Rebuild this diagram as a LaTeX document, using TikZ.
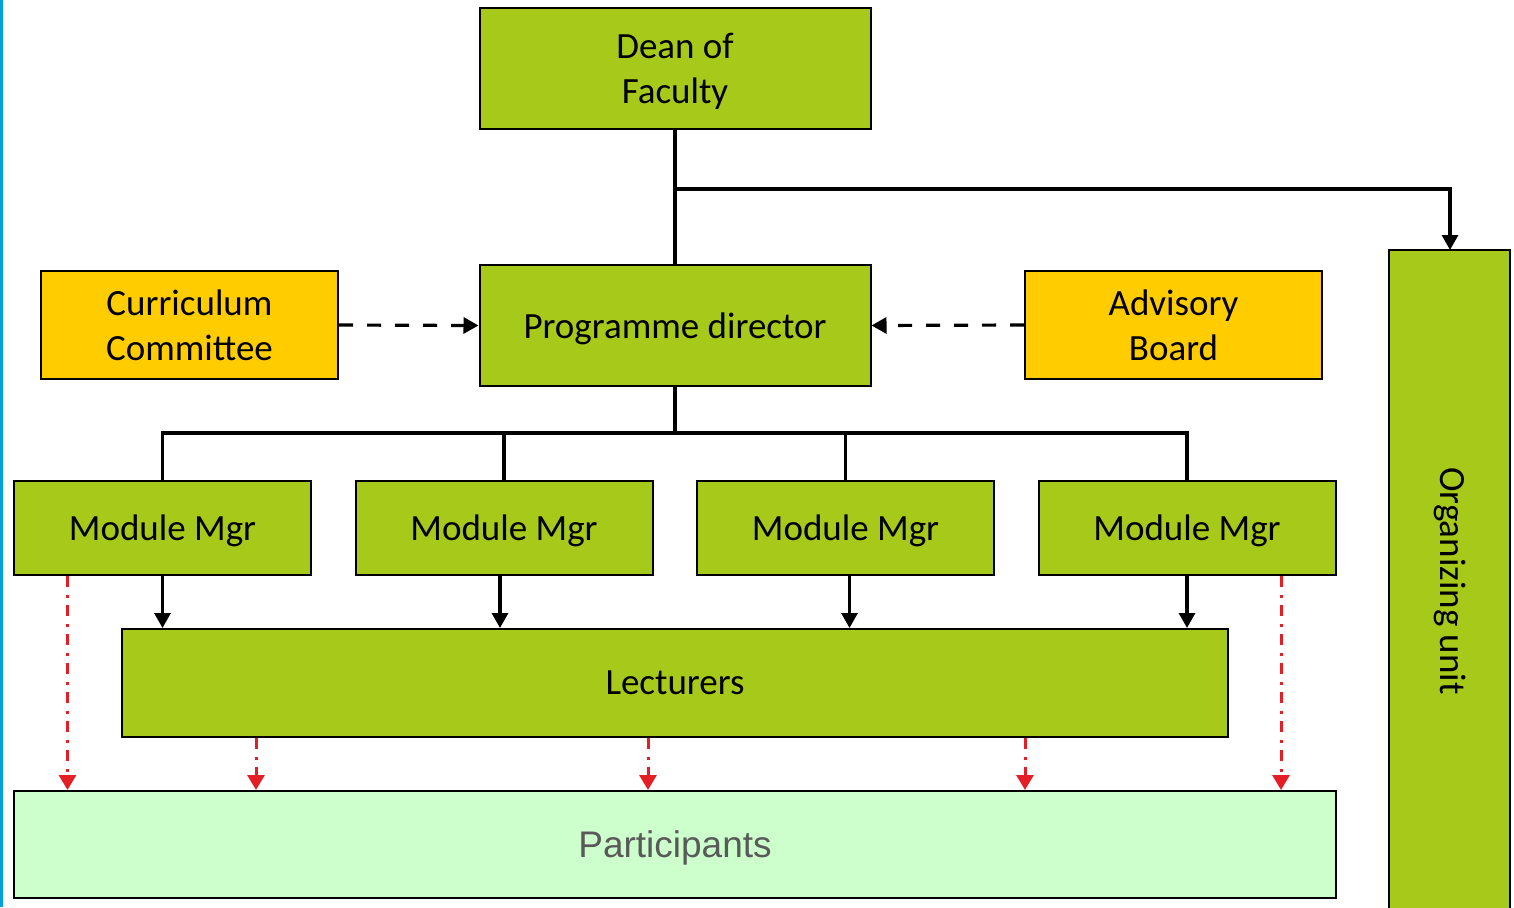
\documentclass[tikz,border=0pt]{standalone}
\usepackage{fontspec}
\setmainfont{Carlito}
\newfontfamily\arialfont{Liberation Sans}
\usetikzlibrary{arrows.meta}
\definecolor{lime}{HTML}{A7C91A}
\definecolor{gold}{HTML}{FFCC00}
\definecolor{mint}{HTML}{CCFFCC}
\definecolor{arrred}{HTML}{E31E24}
\definecolor{edgeblue}{HTML}{00A0DC}
\definecolor{txtgray}{HTML}{595959}
\tikzset{
  box/.style={draw=black, line width=2pt, fill=lime, inner sep=0pt, align=center, text depth=0pt, font=\fontsize{37}{45}\selectfont},
  goldbox/.style={box, fill=gold},
  conn/.style={line width=3.2pt, black},
  arr/.style={conn, -{Triangle[width=16pt,length=15pt]}},
  dasharr/.style={arr, dash pattern=on 14pt off 14pt},
  redarrow/.style={line width=3pt, draw=arrred, dash pattern=on 11pt off 8pt on 3pt off 7pt, -{Triangle[width=17pt,length=15pt]}}
}
\begin{document}
\begin{tikzpicture}[x=1pt,y=-1pt]
\useasboundingbox (0,0) rectangle (1514,907);
\fill[edgeblue] (0,0) rectangle (2.5,907);
% nodes
\node[box, minimum width=391pt, minimum height=121pt] (dean) at (675,68.5) {Dean of\\Faculty};
\node[box, minimum width=391pt, minimum height=121pt] (pd) at (675,325.5) {Programme director};
\node[goldbox, minimum width=297pt, minimum height=108pt] (cc) at (189.5,325) {Curriculum\\Committee};
\node[goldbox, minimum width=297pt, minimum height=108pt] (ab) at (1173.5,325) {Advisory\\Board};
\node[box, minimum width=297pt, minimum height=94pt] (m1) at (162.5,528) {Module Mgr};
\node[box, minimum width=297pt, minimum height=94pt] (m2) at (504,528) {Module Mgr};
\node[box, minimum width=297pt, minimum height=94pt] (m3) at (845.5,528) {Module Mgr};
\node[box, minimum width=297pt, minimum height=94pt] (m4) at (1187,528) {Module Mgr};
\node[box, minimum width=1106pt, minimum height=108pt] (lec) at (675,683) {Lecturers};
\node[box, fill=mint, minimum width=1322pt, minimum height=107pt, font=\arialfont\fontsize{37}{45}\selectfont, text=txtgray] (par) at (675,844.5) {Participants};
% organizing unit (open at the bottom)
\fill[lime] (1389,250) rectangle (1510,912);
\draw[line width=2pt] (1389,912) -- (1389,250) -- (1510,250) -- (1510,912);
\node[rotate=-90, font=\fontsize{37}{45}\selectfont] (ou) at (1450,581) {Organizing unit};
\coordinate (outop) at (1450,250);
\coordinate (br1) at (675,189);
\coordinate (br2) at (675,433);
% connectors
\draw[conn] (dean.south) -- (pd.north);
\draw[arr] (br1) -| (outop);
\draw[dasharr] (cc.east) -- (pd.west);
\draw[dasharr] (ab.west) -- (pd.east);
\draw[conn] (pd.south) -- (br2);
\draw[conn] (m1.north) |- (br2) -| (m4.north);
\draw[conn] (m2.north) -- (m2.north |- br2);
\draw[conn] (m3.north) -- (m3.north |- br2);
\draw[arr] (m1.south) -- (m1.south |- lec.north);
\draw[arr] ([xshift=-4pt]m2.south) -- ([xshift=-4pt]m2.south |- lec.north);
\draw[arr] ([xshift=4pt]m3.south) -- ([xshift=4pt]m3.south |- lec.north);
\draw[arr] (m4.south) -- (m4.south |- lec.north);
% red dash-dot arrows
\coordinate (r1) at (256,0);
\coordinate (r2) at (648,0);
\coordinate (r3) at (1025,0);
\draw[redarrow] ([xshift=-95pt]m1.south) -- ([xshift=-95pt]m1.south |- par.north);
\draw[redarrow] ([xshift=94pt]m4.south) -- ([xshift=94pt]m4.south |- par.north);
\draw[redarrow] (lec.south -| r1) -- (par.north -| r1);
\draw[redarrow] (lec.south -| r2) -- (par.north -| r2);
\draw[redarrow] (lec.south -| r3) -- (par.north -| r3);
\end{tikzpicture}
\end{document}
